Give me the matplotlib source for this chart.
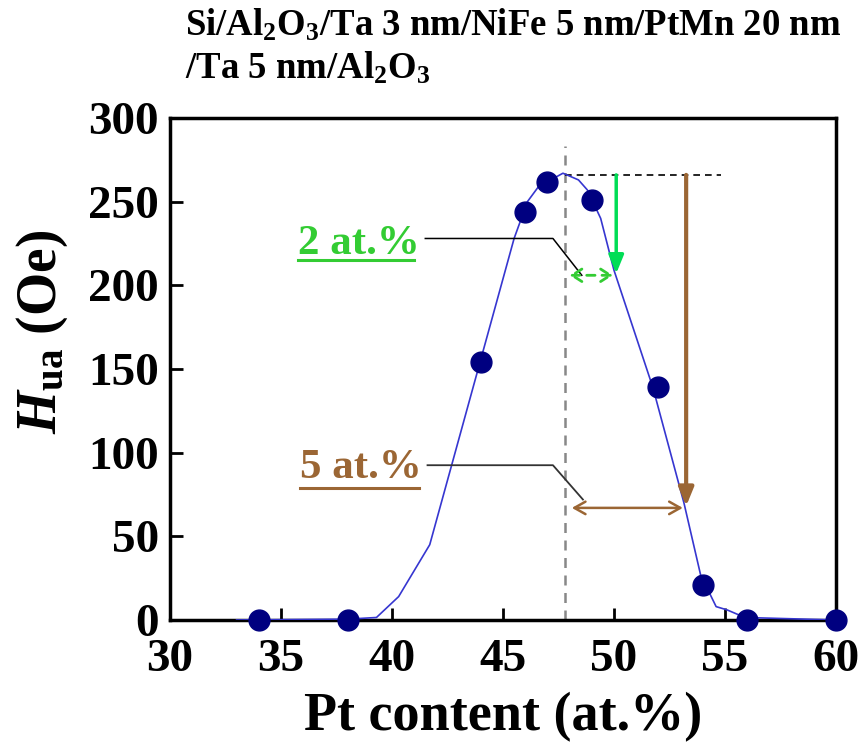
import matplotlib
matplotlib.use("Agg")
import matplotlib.pyplot as plt

plt.rcParams['font.family'] = ['Liberation Serif', 'DejaVu Serif']
plt.rcParams['font.weight'] = 'bold'
plt.rcParams['mathtext.fontset'] = 'custom'
plt.rcParams['mathtext.rm'] = 'Liberation Serif:bold'
plt.rcParams['mathtext.bf'] = 'Liberation Serif:bold'
plt.rcParams['mathtext.it'] = 'Liberation Serif:italic:bold'

# measured data
pt_content = [34, 38, 44, 46, 47, 49, 52, 54, 56, 60]
h_ua = [0, 0, 154, 244, 262, 251, 139, 21, 0, 0]

# fitted curve
fit_x = [33, 38, 39.3, 40.3, 41.7, 45.5, 46.1, 46.6, 47.7, 48.4, 48.8, 49.4,
         50.0, 51.75, 53.15, 53.9, 54.6, 55.1, 55.9, 60]
fit_y = [0, 0.5, 1.5, 14, 45, 228, 250, 259, 267, 263, 257, 240,
         209, 139, 70, 27, 8, 6, 1.5, 0]

x_ticks = [30, 35, 40, 45, 50, 55, 60]
y_ticks = [0, 50, 100, 150, 200, 250, 300]

peak_x = 47.8
peak_y = 266

fig = plt.figure(figsize=(8.65, 7.52), dpi=100)
ax = fig.add_axes([170/865, 1-620/752, 666/865, 502/752])

ax.plot(fit_x, fit_y, color='#3636d0', lw=1.2, zorder=3)
ax.plot(pt_content, h_ua, 'o', color='#000080', ms=15, clip_on=False, zorder=10)

# peak reference lines
ax.plot([peak_x, peak_x], [0, 283], color='#888888', lw=1.8, ls=(0, (4, 3)), zorder=2)
ax.plot([peak_x, 54.8], [peak_y, peak_y], color='black', lw=1.2, ls=(0, (4, 3)), zorder=2)

green_arrow = '#00dd55'
green_text = '#33cc33'
brown = '#9b6634'

# vertical arrows
ax.annotate('', xy=(50.1, 207), xytext=(50.1, peak_y),
            arrowprops=dict(arrowstyle='-|>,head_length=1.1,head_width=0.45',
                            color=green_arrow, lw=2.5, shrinkA=0, shrinkB=0), zorder=5)
ax.annotate('', xy=(53.25, 68), xytext=(53.25, peak_y),
            arrowprops=dict(arrowstyle='-|>,head_length=1.1,head_width=0.45',
                            color=brown, lw=3, shrinkA=0, shrinkB=0), zorder=5)

# horizontal width arrows
ax.annotate('', xy=(48.0, 206), xytext=(49.95, 206),
            arrowprops=dict(arrowstyle='<->,head_length=0.7,head_width=0.45',
                            color=green_text, lw=2, ls=(0, (3, 2.5)), shrinkA=0, shrinkB=0), zorder=5)
ax.annotate('', xy=(48.1, 67), xytext=(53.1, 67),
            arrowprops=dict(arrowstyle='<->,head_length=0.8,head_width=0.45',
                            color=brown, lw=1.8, shrinkA=0, shrinkB=0), zorder=5)

# leader lines
ax.plot([41.5, 47.25, 48.55], [228, 228, 206], color='black', lw=1.1, zorder=4)
ax.plot([41.6, 47.25, 48.6], [92.5, 92.5, 72], color='#333333', lw=1.3, zorder=4)

# labels
ax.text(35.75, 225, '2 at.%', color=green_text, fontsize=31, fontweight='bold',
        ha='left', va='center', zorder=6)
ax.plot([35.75, 41.0], [215, 215], color=green_text, lw=2.2, zorder=6)
ax.text(35.85, 91, '5 at.%', color=brown, fontsize=31, fontweight='bold',
        ha='left', va='center', zorder=6)
ax.plot([35.85, 41.2], [79, 79], color=brown, lw=2.2, zorder=6)

ax.set_xlim(30, 60)
ax.set_ylim(0, 300)
ax.set_xticks(x_ticks)
ax.set_yticks(y_ticks)
ax.tick_params(direction='in', length=9, width=2, labelsize=34,
               top=False, right=False)
ax.tick_params(axis='x', pad=14)
ax.tick_params(axis='y', pad=8)
for lab in ax.get_xticklabels() + ax.get_yticklabels():
    lab.set_fontweight('bold')
for sp in ax.spines.values():
    sp.set_linewidth(2.5)

ax.set_xlabel('Pt content (at.%)', fontsize=39, fontweight='bold', labelpad=8)
ax.set_ylabel(r'$\mathit{H}_{\mathrm{ua}}$ (Oe)', fontsize=40, fontweight='bold')
ax.yaxis.set_label_coords(-0.15, 0.574)

fig.text(185/865, 1-25/752, r'Si/Al$_2$O$_3$/Ta 3 nm/NiFe 5 nm/PtMn 20 nm',
         fontsize=26.5, fontweight='bold', ha='left', va='center')
fig.text(185/865, 1-68/752, r'/Ta 5 nm/Al$_2$O$_3$',
         fontsize=26.5, fontweight='bold', ha='left', va='center')

fig.savefig('out.png', dpi=100)
